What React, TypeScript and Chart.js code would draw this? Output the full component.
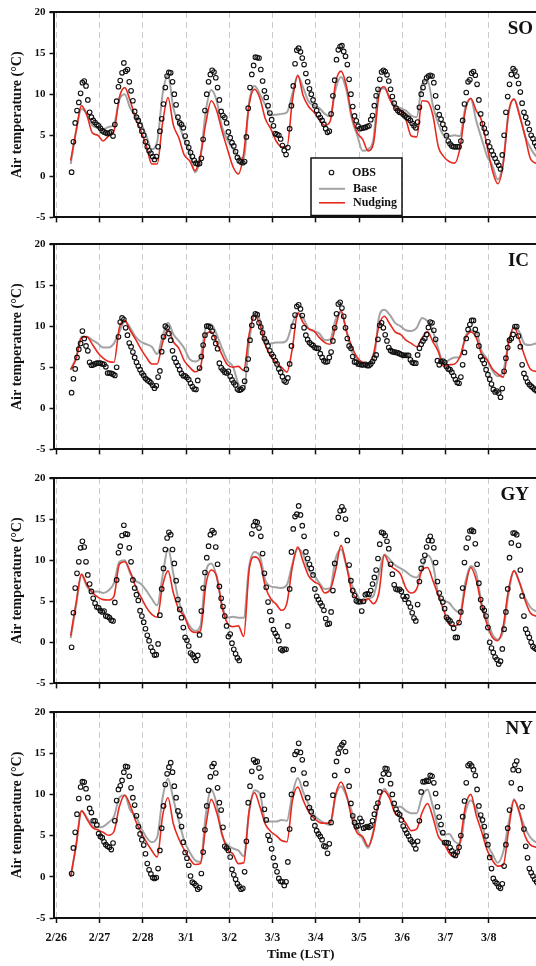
import React, { useEffect, useRef } from "react";
import { Chart, registerables } from "chart.js";

Chart.register(...registerables);

// ---- time axis (hours since 2/26 00:00 LST) ----
const DAY_LABELS = ["2/26", "2/27", "2/28", "3/1", "3/2", "3/3", "3/4", "3/5", "3/6", "3/7", "3/8"];
const DAY_HOURS = [0, 24, 48, 72, 96, 120, 144, 168, 192, 216, 240];
const Y_TICKS = [-5, 0, 5, 10, 15, 20];

// observations are hourly, model output every 3 h
const OBS_START = 8.5;
const OBS_STEP = 1;
const MODEL_START = 8;
const MODEL_STEP = 3;

// ---- SO ----
const soObs = [
  0.5, 4.2, 6.5, 8.0, 9.0, 10.1, 11.4, 11.6, 11.0, 9.3, 7.8, 7.2, 6.8, 6.55, 6.3, 6.15,
  5.85, 5.55, 5.4, 5.3, 5.2, 5.3, 5.4, 4.9, 6.3, 9.15, 10.9, 11.65,
  12.6, 13.8, 12.8, 13.0, 11.5, 10.4, 9.2, 7.9, 7.2, 6.8, 6.2, 5.5,
  5.0, 4.2, 3.6, 3.1, 2.8, 2.4, 2.05, 2.4, 3.6, 5.5, 7.0, 8.8,
  10.8, 12.2, 12.65, 12.6, 11.5, 10.0, 8.7, 7.2, 6.5, 6.3, 5.9, 4.9,
  4.1, 3.5, 2.9, 2.4, 1.95, 1.6, 1.5, 1.57, 2.2, 4.5, 8.0, 10.0,
  11.5, 12.4, 12.9, 12.7, 12.0, 10.8, 9.3, 7.9, 7.4, 7.15, 6.5, 5.4,
  4.7, 4.1, 3.7, 3.0, 2.3, 1.9, 1.75, 1.65, 1.8, 4.8, 8.3, 10.8,
  12.4, 13.5, 14.5, 14.45, 14.4, 13.0, 11.6, 10.4, 9.6, 8.6, 7.7, 6.9,
  6.15, 5.2, 5.1, 5.0, 4.55, 3.75, 3.15, 2.65, 3.5, 5.8, 8.6, 11.0,
  13.7, 15.35, 15.6, 15.15, 14.4, 13.6, 12.5, 11.5, 10.65, 10.0, 9.3, 8.6,
  8.0, 7.5, 7.15, 6.8, 6.35, 5.8, 5.35, 5.5, 7.6, 9.8, 11.7, 14.2,
  15.4, 15.8, 15.9, 15.2, 14.6, 13.6, 11.8, 10.0, 8.5, 7.35, 6.75, 6.1,
  5.8, 5.85, 5.9, 5.95, 6.05, 6.15, 6.9, 7.4, 8.6, 9.8, 10.6, 11.8,
  12.7, 12.9, 12.75, 12.35, 11.6, 10.6, 9.7, 8.9, 8.3, 8.0, 7.8, 7.75,
  7.55, 7.35, 7.15, 7.05, 6.8, 6.45, 6.15, 5.9, 6.6, 8.4, 10.0, 10.8,
  11.5, 12.0, 12.2, 12.3, 12.2, 11.4, 9.8, 8.4, 7.5, 6.95, 6.35, 5.8,
  4.95, 4.3, 3.95, 3.7, 3.6, 3.6, 3.6, 3.6, 4.3, 6.8, 8.8, 10.2,
  11.5, 11.75, 12.55, 12.75, 12.3, 11.2, 9.3, 7.6, 6.4, 5.85, 5.3, 4.2,
  3.6, 3.1, 2.6, 2.2, 1.7, 1.35, 0.9, 2.6, 5.0, 7.8, 9.7, 11.2,
  12.4, 13.1, 12.85, 12.2, 11.3, 10.25, 8.9, 7.8, 7.2, 6.5, 5.7, 5.0,
  4.6, 4.1, 3.7, 3.3, 3.0, 2.7, 2.5,
];
const soBase = [
  1.5, 5.5, 8.2, 7.6, 6.2, 5.9, 5.7, 6.0,
  6.3, 9.3, 10.0, 8.3, 7.4, 6.5, 4.9, 3.3,
  4.2, 10.0, 12.3, 8.3, 6.4, 4.5, 3.0, 0.5,
  2.3, 8.0, 10.5, 9.2, 6.0, 4.4, 3.4, 2.4,
  2.2, 9.0, 11.0, 10.0, 8.7, 7.5, 7.5, 7.6,
  7.8, 10.0, 12.2, 10.8, 9.1, 8.6, 8.3, 7.6,
  7.3, 10.6, 12.1, 10.5, 7.0, 5.0, 3.1, 3.3,
  4.5, 10.7, 10.7, 9.6, 8.6, 8.3, 8.0, 7.4,
  7.2, 11.2, 11.7, 8.6, 6.4, 5.0, 4.9, 5.0,
  4.9, 8.4, 9.4, 6.8, 4.6, 2.5, 1.3, -0.4,
  1.8, 7.7, 9.4, 7.6, 5.0, 3.5, 2.5, 2.0,
];
const soNudging = [
  1.9, 5.5, 8.6, 7.4, 5.3, 5.0, 4.3, 4.9,
  5.5, 9.6, 10.8, 9.2, 7.1, 5.5, 3.7, 1.5,
  1.5, 6.5, 9.6, 6.2, 4.7, 2.6, 1.9, 0.7,
  2.5, 6.5, 9.2, 8.0, 5.5, 3.3, 1.2, 0.3,
  2.8, 8.7, 10.6, 9.5, 7.0, 5.8, 4.3, 3.6,
  3.6, 9.2, 12.3, 9.8, 8.5, 7.8, 6.9, 6.2,
  6.7, 11.4, 12.8, 11.0, 7.3, 5.3, 4.5, 3.1,
  4.0, 9.8, 10.9, 9.4, 8.3, 8.0, 6.9, 4.9,
  4.8, 9.2, 9.1, 7.4, 3.6, 2.4, 1.8, 1.6,
  3.4, 8.0, 9.5, 8.0, 6.8, 3.7, 0.7, -0.9,
  1.5, 7.8, 9.4, 7.4, 5.0, 2.2, 1.6, 1.2,
];

// ---- IC ----
const icObs = [
  1.9, 3.6, 4.8, 6.2, 7.2, 7.9, 9.4, 8.5, 7.6, 7.0, 5.6, 5.25, 5.3, 5.4, 5.5, 5.5,
  5.5, 5.4, 5.35, 5.05, 4.3, 4.3, 4.25, 4.15, 4.0, 5.0, 8.7, 10.5,
  11.0, 10.8, 9.8, 8.9, 7.95, 7.5, 6.85, 6.2, 5.6, 5.15, 4.7, 4.3,
  4.0, 3.65, 3.45, 3.3, 3.1, 2.8, 2.45, 2.75, 3.8, 4.55, 6.9, 8.7,
  10.0, 9.8, 9.1, 8.3, 7.0, 6.1, 5.6, 5.2, 4.7, 4.25, 3.95, 3.95,
  3.75, 3.5, 3.05, 2.65, 2.35, 2.3, 3.4, 4.9, 6.3, 7.7, 8.9, 10.0,
  10.0, 9.85, 9.4, 8.6, 7.9, 7.25, 5.5, 4.95, 4.65, 4.4, 4.3, 4.5,
  3.9, 3.45, 3.1, 2.85, 2.35, 2.2, 2.3, 2.5, 3.3, 4.75, 6.0, 8.3,
  10.1, 11.0, 11.5, 11.4, 10.4, 9.9, 9.2, 8.5, 8.1, 7.6, 7.0, 6.6,
  6.3, 5.8, 5.4, 4.8, 4.4, 3.85, 3.35, 3.2, 3.7, 5.4, 7.6, 10.0,
  11.35, 12.4, 12.6, 12.1, 11.3, 9.8, 8.9, 8.35, 8.0, 7.8, 7.65, 7.4,
  7.3, 7.3, 6.65, 6.2, 5.8, 5.65, 5.7, 6.2, 6.85, 8.2, 9.8, 11.5,
  12.7, 12.9, 12.2, 11.2, 9.8, 8.5, 7.6, 7.3, 6.3, 5.65, 5.6, 5.4,
  5.35, 5.3, 5.3, 5.35, 5.2, 5.2, 5.4, 5.7, 6.1, 6.5, 8.4, 10.1,
  10.4, 9.8, 8.95, 8.2, 7.4, 7.05, 6.9, 6.85, 6.8, 6.75, 6.65, 6.55,
  6.45, 6.45, 6.45, 6.45, 5.9, 5.6, 5.5, 5.5, 6.5, 7.3, 7.8, 8.2,
  8.5, 9.0, 9.85, 10.5, 10.4, 9.5, 8.4, 5.8, 5.3, 5.7, 5.75, 5.6,
  5.1, 4.8, 4.7, 4.4, 3.95, 3.5, 3.15, 3.05, 3.8, 5.3, 6.8, 8.5,
  9.6, 10.2, 10.7, 10.7, 9.6, 9.0, 7.6, 6.3, 5.9, 5.45, 4.7, 4.1,
  3.55, 2.95, 2.3, 2.0, 2.1, 1.85, 1.35, 2.4, 4.5, 6.1, 7.4, 8.3,
  8.5, 9.0, 9.95, 9.95, 8.8, 7.5, 5.3, 4.25, 3.7, 3.2, 2.9, 2.7,
  2.5, 2.3, 2.15, 2.05, 1.95, 1.85, 1.8,
];
const icBase = [
  4.7, 6.2, 8.7, 8.7, 8.3, 7.9, 7.4, 7.4,
  7.9, 9.3, 10.6, 9.8, 8.7, 8.1, 7.8, 7.5,
  6.6, 8.8, 10.4, 9.0, 8.2, 7.3, 6.0, 5.7,
  6.2, 9.8, 10.2, 9.0, 7.3, 5.8, 5.1, 3.0,
  2.2, 8.0, 11.5, 10.8, 8.4, 7.9, 8.0, 8.0,
  8.3, 10.3, 11.6, 11.0, 9.7, 9.4, 9.1, 8.3,
  8.4, 10.8, 11.7, 9.4, 6.9, 6.0, 5.5, 5.4,
  5.7, 11.0, 12.0, 11.4, 10.4, 10.0, 9.5, 9.4,
  9.8, 11.0, 10.6, 9.4, 7.2, 5.4, 5.9, 6.2,
  6.2, 8.7, 9.5, 9.3, 7.0, 6.0, 4.6, 3.9,
  4.5, 8.0, 9.9, 9.3, 7.8, 7.7, 7.9, 8.0,
];
const icNudging = [
  4.7, 6.0, 8.6, 8.7, 7.8, 6.8, 6.1, 5.7,
  5.6, 9.8, 10.7, 9.5, 8.4, 7.2, 6.2, 5.4,
  5.4, 8.0, 9.6, 8.1, 7.3, 5.8, 5.0, 4.45,
  5.0, 9.0, 9.3, 8.0, 6.5, 5.3, 5.0, 5.1,
  4.6, 9.0, 11.3, 10.2, 7.7, 6.4, 5.55, 5.0,
  4.4, 7.3, 11.6, 10.4, 9.7, 9.4, 8.6, 8.0,
  7.8, 10.0, 11.9, 9.4, 7.5, 6.2, 5.6, 5.5,
  6.6, 10.0, 11.2, 10.3, 9.3, 9.0, 8.3, 7.9,
  7.5, 8.6, 9.3, 8.1, 6.9, 5.1, 5.3, 5.4,
  6.3, 8.5, 9.3, 8.6, 6.6, 5.9, 4.8, 4.2,
  3.8, 8.0, 9.9, 8.3, 6.3, 4.8, 4.5, 4.5,
];

// ---- GY ----
const gyObs = [
  -0.6, 3.6, 6.6, 8.4, 9.8, 11.5, 12.3, 11.6, 9.8, 8.2, 7.1, 6.2, 5.35, 4.75, 4.3, 4.2,
  3.85, 3.7, 3.8, 3.2, 3.15, 3.0, 2.7, 2.6, 4.85, 7.6, 10.9, 11.7,
  13.0, 14.25, 13.2, 13.15, 11.5, 9.8, 7.6, 6.6, 5.8, 5.1, 3.85, 3.2,
  2.45, 1.65, 0.85, 0.2, -0.6, -1.1, -1.55, -1.5, -0.2, 3.3, 6.5, 9.0,
  11.3, 12.7, 13.4, 13.1, 11.3, 9.6, 7.5, 5.2, 4.0, 3.0, 1.8, 0.6,
  0.25, -0.45, -1.3, -1.5, -1.85, -2.2, -1.6, 0.9, 3.8, 6.6, 8.5, 10.3,
  11.7, 13.1, 13.6, 13.35, 11.6, 9.5, 6.8, 5.35, 4.35, 3.2, 2.0, 0.7,
  1.0, -0.1, -0.85, -1.4, -1.9, -2.2, null, null, null, null, null, null,
  13.2, 14.2, 14.7, 14.6, 13.9, 12.9, 10.8, 8.4, 6.7, 4.9, 3.75, 2.7,
  1.55, 1.1, 0.75, 0.2, -0.8, -1.0, -0.85, -0.85, 2.0, 6.5, 11.0, 13.8,
  15.3, 15.6, 16.6, 15.5, 14.2, 12.9, 11.0, 10.2, 9.5, 9.0, 8.2, 6.5,
  5.6, 5.2, 4.8, 4.45, 3.9, 2.9, 2.2, 2.3, 3.7, 6.3, 9.6, 13.2,
  15.2, 16.0, 16.5, 16.1, 15.0, 12.4, 9.4, 7.5, 6.3, 5.7, 5.05, 4.95,
  4.95, 3.8, 5.0, 5.8, 5.9, 5.85, 6.3, 7.1, 7.9, 8.8, 10.2, 11.95,
  13.4, 13.3, 13.0, 12.3, 11.4, 9.5, 8.3, 7.0, 6.5, 6.4, 6.45, 6.2,
  5.6, 5.25, 5.55, 4.8, 4.3, 3.6, 2.95, 2.6, 4.6, 7.4, 9.0, 9.9,
  10.6, 11.6, 12.4, 12.9, 12.35, 11.5, 9.7, 7.4, 6.0, 5.35, 4.9, 4.1,
  3.05, 2.8, 2.6, 2.25, 1.7, 0.6, 0.6, 2.4, 3.7, 6.6, 9.7, 11.5,
  12.7, 13.55, 13.65, 13.5, 12.0, 9.5, 7.2, 5.2, 4.2, 3.9, 3.2, 1.8,
  0.0, -0.7, -1.25, -1.8, -2.1, -2.65, -2.3, -0.8, 1.6, 3.7, 6.5, 10.3,
  12.1, 13.3, 13.3, 13.1, 11.8, 8.8, 5.65, 3.2, 1.6, 1.1, 0.6, 0.0,
  -0.5, -0.7, -0.85, -0.95, -1.0, -1.0, -1.0,
];
const gyBase = [
  0.5, 4.5, 8.2, 6.8, 6.1, 6.2, 6.0, 6.3,
  7.2, 9.8, 10.0, 8.4, 7.5, 7.1, 6.3, 5.3,
  4.5, 8.1, 11.4, 8.3, 5.0, 3.3, 2.0, 1.4,
  2.0, 8.5, 9.6, 8.0, 4.5, 3.0, 3.1, 3.0,
  3.0, 9.2, 11.0, 10.5, 7.5, 6.8, 6.7, 6.6,
  7.0, 9.5, 11.4, 10.7, 8.8, 8.2, 7.2, 6.5,
  6.6, 10.2, 11.3, 9.3, 7.0, 5.8, 4.7, 5.3,
  5.65, 8.3, 10.7, 10.1, 9.4, 9.0, 8.6, 8.1,
  7.9, 9.0, 10.6, 9.5, 5.8, 5.05, 4.8, 4.0,
  3.6, 7.3, 9.3, 8.4, 4.8, 2.8, 1.0, 0.35,
  1.4, 6.0, 8.7, 7.3, 5.5, 4.3, 3.8, 3.6,
];
const gyNudging = [
  0.8, 4.8, 8.3, 7.0, 6.1, 5.5, 5.2, 5.15,
  5.6, 9.5, 9.8, 8.6, 6.8, 5.5, 4.25, 3.4,
  3.05, 6.9, 8.7, 6.0, 4.0, 3.2, 1.6, 1.2,
  1.4, 7.0, 8.8, 8.0, 4.3, 2.3, 1.9, 2.0,
  0.7, 8.8, 10.4, 9.8, 6.8, 5.3, 4.65, 3.9,
  4.8, 9.2, 11.6, 9.8, 8.1, 7.4, 7.0, 6.0,
  6.4, 8.8, 11.8, 9.3, 6.2, 5.3, 5.05, 5.3,
  4.7, 6.0, 10.6, 9.4, 8.9, 8.3, 6.6, 6.0,
  6.5, 8.8, 9.1, 7.5, 5.7, 3.9, 2.2, 2.0,
  2.8, 6.7, 9.1, 7.6, 4.5, 2.2, 0.6, 0.2,
  2.0, 6.5, 8.7, 7.3, 5.2, 3.6, 3.2, 3.0,
];

// ---- NY ----
const nyObs = [
  0.4, 3.5, 5.4, 7.6, 9.5, 10.9, 11.55, 11.5, 10.7, 9.6, 8.3, 7.8, 6.8, 6.8, 6.3, 5.25,
  4.9, 4.75, 4.25, 3.9, 3.7, 3.6, 3.3, 4.1, 6.8, 9.25, 10.6, 11.05,
  11.7, 12.7, 13.4, 13.35, 12.2, 10.8, 9.6, 8.7, 7.4, 6.1, 5.2, 4.5,
  3.85, 2.8, 1.6, 0.85, 0.35, -0.1, -0.2, -0.1, 1.0, 3.2, 5.9, 8.6,
  11.2, 12.5, 13.3, 13.85, 12.7, 11.0, 9.6, 8.0, 7.4, 6.1, 4.2, 2.95,
  2.25, 1.4, 0.1, -0.65, -0.8, -1.05, -1.5, -1.3, 0.4, 3.0, 5.7, 8.6,
  10.5, 12.15, 13.4, 13.75, 12.6, 10.8, 9.0, 8.1, 6.0, 3.7, 3.5, 3.2,
  2.4, 0.9, 0.25, -0.3, -0.85, -1.15, -1.5, -1.4, 0.6, 4.3, 9.0, 11.0,
  12.8, 14.2, 13.9, 14.0, 13.2, 12.1, 9.9, 8.2, 6.9, 5.0, 4.45, 3.4,
  2.3, 1.35, 0.6, -0.2, -0.55, -0.6, -1.05, -0.6, 1.8, 5.8, 10.0, 13.0,
  14.85, 15.2, 16.2, 15.1, 14.2, 12.6, 11.3, 9.6, 8.4, 7.9, 7.15, 6.2,
  5.6, 5.2, 4.9, 4.5, 3.75, 3.65, 2.85, 4.0, 6.6, 9.9, 12.3, 14.0,
  15.0, 15.65, 16.0, 16.3, 15.2, 12.9, 11.0, 8.9, 7.4, 6.6, 6.1, 6.2,
  7.1, 6.7, 5.9, 6.0, 6.1, 6.0, 6.2, 6.8, 7.6, 8.4, 8.95, 10.3,
  11.7, 12.5, 13.15, 13.1, 12.45, 11.3, 10.0, 8.9, 8.2, 7.75, 7.55, 6.9,
  6.15, 5.7, 5.3, 4.95, 4.5, 4.25, 3.9, 3.4, 4.3, 6.8, 10.3, 11.55,
  11.55, 11.7, 11.6, 12.3, 12.2, 11.4, 10.1, 8.5, 7.25, 6.35, 5.35, 4.15,
  4.15, 4.1, 3.55, 3.15, 2.75, 2.6, 3.0, 3.6, 5.0, 7.3, 9.2, 11.4,
  13.5, 13.7, 13.45, 13.0, 12.3, 10.6, 8.6, 7.5, 6.9, 6.1, 4.95, 3.9,
  2.35, 1.0, -0.2, -0.6, -0.8, -1.2, -1.4, -0.85, 1.3, 3.9, 5.9, 8.1,
  11.4, 13.0, 13.6, 14.05, 12.9, 10.7, 8.5, 5.8, 3.7, 2.3, 1.0, 0.5,
  0.1, -0.3, -0.6, -0.9, -1.1, -1.2, -1.2,
];
const nyBase = [
  0.0, 3.8, 8.0, 7.2, 6.2, 6.0, 6.1, 6.6,
  7.3, 9.6, 9.9, 8.1, 7.4, 6.0, 4.8, 4.2,
  4.8, 9.6, 11.9, 9.4, 6.8, 4.4, 3.0, 2.0,
  1.8, 7.6, 10.6, 8.8, 5.0, 3.9, 3.45, 3.2,
  2.5, 7.8, 10.5, 10.1, 6.8, 6.7, 6.7, 6.9,
  6.8, 10.0, 12.0, 10.3, 8.8, 7.5, 6.9, 6.5,
  6.3, 9.8, 11.0, 9.8, 7.9, 5.8, 4.6, 3.5,
  5.6, 9.0, 10.7, 9.7, 8.5, 8.5, 8.0, 7.7,
  7.7, 9.8, 10.6, 8.5, 5.9, 5.1, 5.2, 4.3,
  4.0, 7.8, 9.3, 8.2, 6.6, 4.0, 2.8, 1.7,
  3.0, 6.5, 9.4, 7.8, 6.0, 4.8, 4.2, 4.0,
];
const nyNudging = [
  0.0, 3.8, 8.0, 7.0, 6.0, 5.7, 5.4, 5.05,
  5.5, 8.5, 9.9, 8.7, 6.8, 5.4, 4.2, 3.2,
  2.4, 7.4, 9.6, 6.4, 4.6, 3.3, 2.2, 1.5,
  1.6, 6.2, 9.4, 7.8, 5.2, 3.3, 2.8, 1.6,
  1.7, 8.0, 10.2, 8.5, 6.4, 5.5, 5.0, 4.4,
  4.25, 9.2, 10.9, 9.3, 7.9, 7.1, 6.6, 6.5,
  6.6, 10.0, 11.5, 10.0, 7.1, 5.3, 4.9, 3.7,
  5.4, 9.2, 10.4, 9.5, 7.7, 7.3, 6.5, 5.6,
  5.8, 7.8, 8.9, 7.2, 4.9, 4.1, 2.9, 2.4,
  4.2, 8.5, 10.0, 7.5, 5.5, 3.3, 2.0, 1.3,
  1.4, 5.7, 9.3, 7.8, 5.0, 3.9, 3.6, 3.5,
];

// ---- layout / style ----
const FONT_FAMILY = "'Liberation Serif', 'Times New Roman', Times, serif";
const INK = "#111111";
const BASE_COLOR = "#a3a3a3";
const NUDGING_COLOR = "#e8291f";
const GRID_COLOR = "#c9c9c9";

const CANVAS_WIDTH = 553;
const PAD_TOP = 12;
const PLOT_HEIGHT = 206;
const Y_AXIS_WIDTH = 53.5;
const X_MIN = -1.54;
const X_MAX = 272.8;

type Panel = {
  name: string;
  obs: (number | null)[];
  base: number[];
  nudging: number[];
  top: number;
  labelRight: number;
  bottomAxis: boolean;
  legend: boolean;
};

const PANELS: Panel[] = [
  { name: "SO", obs: soObs, base: soBase, nudging: soNudging, top: -0.5, labelRight: 533, bottomAxis: false, legend: true },
  { name: "IC", obs: icObs, base: icBase, nudging: icNudging, top: 232, labelRight: 529, bottomAxis: false, legend: false },
  { name: "GY", obs: gyObs, base: gyBase, nudging: gyNudging, top: 466, labelRight: 529, bottomAxis: false, legend: false },
  { name: "NY", obs: nyObs, base: nyBase, nudging: nyNudging, top: 700.3, labelRight: 533, bottomAxis: true, legend: false },
];

const toSeries = (values: (number | null)[], start: number, step: number) =>
  values.map((v, i) => ({ x: start + i * step, y: v }));

function makeFramePlugin(panel: Panel) {
  return {
    id: "frame-" + panel.name,
    afterDatasetsDraw(chart: any) {
      const { ctx, chartArea } = chart;
      ctx.save();
      // top frame line
      ctx.strokeStyle = INK;
      ctx.lineWidth = 2;
      ctx.beginPath();
      ctx.moveTo(chartArea.left - 4, chartArea.top);
      ctx.lineTo(chartArea.right, chartArea.top);
      ctx.stroke();

      // station label
      ctx.fillStyle = INK;
      ctx.font = `bold 19px ${FONT_FAMILY}`;
      ctx.textAlign = "right";
      ctx.textBaseline = "alphabetic";
      ctx.fillText(panel.name, panel.labelRight, chartArea.top + 21.5);

      if (panel.legend) {
        const bx = 311;
        const by = 158;
        const bw = 91;
        const bh = 57.5;
        ctx.fillStyle = "#ffffff";
        ctx.fillRect(bx, by, bw, bh);
        ctx.strokeStyle = INK;
        ctx.lineWidth = 1.5;
        ctx.strokeRect(bx, by, bw, bh);

        ctx.font = `bold 12px ${FONT_FAMILY}`;
        ctx.textAlign = "left";
        ctx.textBaseline = "middle";
        ctx.fillStyle = INK;

        // OBS
        ctx.lineWidth = 1.1;
        ctx.strokeStyle = INK;
        ctx.beginPath();
        ctx.arc(331.5, 172.5, 2.3, 0, Math.PI * 2);
        ctx.stroke();
        ctx.fillText("OBS", 352, 173);

        // Base
        ctx.strokeStyle = BASE_COLOR;
        ctx.lineWidth = 2;
        ctx.beginPath();
        ctx.moveTo(319, 188.8);
        ctx.lineTo(345, 188.8);
        ctx.stroke();
        ctx.fillText("Base", 353, 188.5);

        // Nudging
        ctx.strokeStyle = NUDGING_COLOR;
        ctx.lineWidth = 1.6;
        ctx.beginPath();
        ctx.moveTo(319, 202.8);
        ctx.lineTo(345, 202.8);
        ctx.stroke();
        ctx.fillText("Nudging", 353, 202.5);
      }
      ctx.restore();
    },
  };
}

function PanelChart({ panel }: { panel: Panel }) {
  const ref = useRef<HTMLCanvasElement | null>(null);
  const xAxisHeight = panel.bottomAxis ? 48 : 10;
  const height = PAD_TOP + PLOT_HEIGHT + xAxisHeight;

  useEffect(() => {
    if (!ref.current) return;
    const chart = new Chart(ref.current, {
      type: "line",
      data: {
        datasets: [
          {
            label: "OBS",
            data: toSeries(panel.obs, OBS_START, OBS_STEP),
            showLine: false,
            pointStyle: "circle",
            pointRadius: 2.3,
            pointBorderWidth: 1.1,
            pointBorderColor: INK,
            pointBackgroundColor: "rgba(255,255,255,0)",
            order: 0,
          },
          {
            label: "Nudging",
            data: toSeries(panel.nudging, MODEL_START, MODEL_STEP),
            borderColor: NUDGING_COLOR,
            borderWidth: 1.6,
            pointRadius: 0,
            cubicInterpolationMode: "monotone",
            fill: false,
            order: 1,
          },
          {
            label: "Base",
            data: toSeries(panel.base, MODEL_START, MODEL_STEP),
            borderColor: BASE_COLOR,
            borderWidth: 2,
            pointRadius: 0,
            cubicInterpolationMode: "monotone",
            fill: false,
            order: 2,
          },
        ],
      },
      options: {
        responsive: false,
        maintainAspectRatio: false,
        animation: false,
        devicePixelRatio: 1,
        layout: { padding: { top: PAD_TOP, left: 0, right: 0, bottom: 0 } },
        plugins: {
          legend: { display: false },
          tooltip: { enabled: false },
        },
        scales: {
          x: {
            type: "linear",
            min: X_MIN,
            max: X_MAX,
            afterBuildTicks: (s: any) => {
              s.ticks = DAY_HOURS.map((v) => ({ value: v }));
            },
            afterFit: (s: any) => {
              s.height = xAxisHeight;
            },
            grid: {
              color: GRID_COLOR,
              lineWidth: 1,
              drawTicks: true,
              tickLength: 5,
              tickColor: INK,
              tickWidth: 1.5,
            },
            border: { display: true, color: INK, width: 2, dash: [6, 4] },
            ticks: {
              display: panel.bottomAxis,
              autoSkip: false,
              maxRotation: 0,
              padding: 7.5,
              color: INK,
              font: { family: FONT_FAMILY, size: 12, weight: "bold" },
              callback: (_v: any, i: number) => DAY_LABELS[i],
            },
            title: {
              display: panel.bottomAxis,
              text: "Time (LST)",
              color: INK,
              font: { family: FONT_FAMILY, size: 13.5, weight: "bold" },
              padding: { top: 0, bottom: 3.2 },
            },
          },
          y: {
            type: "linear",
            min: -5,
            max: 20,
            afterBuildTicks: (s: any) => {
              s.ticks = Y_TICKS.map((v) => ({ value: v }));
            },
            afterFit: (s: any) => {
              s.width = Y_AXIS_WIDTH;
            },
            grid: {
              drawOnChartArea: false,
              drawTicks: true,
              tickLength: 4,
              tickColor: INK,
              tickWidth: 1.5,
            },
            border: { display: true, color: INK, width: 2 },
            ticks: {
              padding: 4,
              color: INK,
              font: { family: FONT_FAMILY, size: 11, weight: "bold" },
            },
            title: {
              display: true,
              text: "Air temperature (°C)",
              color: INK,
              font: { family: FONT_FAMILY, size: 14, weight: "bold" },
              padding: { top: 9.1, bottom: 0 },
            },
          },
        },
      } as any,
      plugins: [makeFramePlugin(panel)],
    });
    return () => chart.destroy();
  }, [panel]);

  return (
    <canvas
      ref={ref}
      width={CANVAS_WIDTH}
      height={height}
      style={{
        position: "absolute",
        left: 0,
        top: panel.top,
        width: CANVAS_WIDTH,
        height,
        display: "block",
      }}
    />
  );
}

export default function App() {
  return (
    <div
      style={{
        position: "fixed",
        left: 0,
        top: 0,
        width: 536,
        height: 966,
        overflow: "hidden",
        background: "#ffffff",
      }}
    >
      {PANELS.map((p) => (
        <PanelChart key={p.name} panel={p} />
      ))}
    </div>
  );
}
